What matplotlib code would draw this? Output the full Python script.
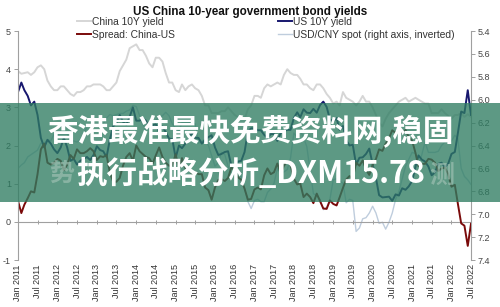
import matplotlib
matplotlib.use('Agg')
import matplotlib.pyplot as plt
import matplotlib.dates as mdates
from matplotlib.patches import Rectangle
import numpy as np
import pandas as pd

# monthly values, Jan 2011 .. Jul 2022
months = pd.date_range('2011-01-01', '2022-07-01', freq='MS')

china_10y = [
    3.95, 3.88, 3.90, 3.92, 3.85, 3.92, 4.05, 4.10, 4.00, 3.70, 3.55, 3.45,  # 2011
    3.45, 3.55, 3.55, 3.45, 3.35, 3.30, 3.40, 3.40, 3.45, 3.55, 3.55, 3.60,  # 2012
    3.60, 3.60, 3.55, 3.45, 3.45, 3.55, 3.65, 3.95, 4.10, 4.25, 4.55, 4.60,  # 2013
    4.65, 4.50, 4.50, 4.35, 4.15, 4.05, 4.30, 4.30, 4.20, 3.90, 3.65, 3.65,  # 2014
    3.45, 3.40, 3.60, 3.45, 3.55, 3.60, 3.50, 3.45, 3.30, 3.05, 3.05, 2.85,  # 2015
    2.85, 2.85, 2.90, 2.90, 3.00, 2.90, 2.80, 2.75, 2.70, 2.70, 2.95, 3.05,  # 2016
    3.30, 3.30, 3.25, 3.50, 3.60, 3.55, 3.60, 3.65, 3.60, 3.85, 4.00, 3.90,  # 2017
    3.85, 3.85, 3.75, 3.60, 3.60, 3.50, 3.45, 3.60, 3.60, 3.50, 3.35, 3.25,  # 2018
    3.10, 3.15, 3.05, 3.40, 3.25, 3.20, 3.15, 3.05, 3.15, 3.30, 3.15, 3.15,  # 2019
    3.00, 2.80, 2.60, 2.50, 2.70, 2.85, 2.95, 3.05, 3.15, 3.20, 3.25, 3.15,  # 2020
    3.20, 3.25, 3.20, 3.15, 3.10, 3.10, 2.85, 2.85, 2.85, 2.95, 2.85, 2.78,  # 2021
    2.70, 2.80, 2.80, 2.85, 2.75, 2.82, 2.75,                                # 2022
]

us_10y = [
    3.40, 3.65, 3.45, 3.30, 3.05, 3.15, 2.80, 2.20, 1.95, 2.15, 2.05, 1.90,
    1.80, 1.95, 2.20, 1.95, 1.60, 1.65, 1.50, 1.60, 1.65, 1.70, 1.62, 1.75,
    1.98, 1.88, 1.85, 1.70, 2.15, 2.50, 2.60, 2.80, 2.62, 2.55, 2.75, 3.00,
    2.65, 2.65, 2.72, 2.65, 2.48, 2.53, 2.56, 2.35, 2.50, 2.35, 2.18, 2.17,
    1.68, 2.00, 1.93, 2.05, 2.12, 2.35, 2.20, 2.20, 2.05, 2.15, 2.22, 2.27,
    1.95, 1.75, 1.78, 1.83, 1.85, 1.47, 1.45, 1.58, 1.60, 1.83, 2.37, 2.45,
    2.45, 2.40, 2.40, 2.28, 2.20, 2.30, 2.30, 2.12, 2.33, 2.38, 2.41, 2.41,
    2.72, 2.87, 2.74, 2.95, 2.86, 2.85, 2.96, 2.86, 3.06, 3.15, 3.01, 2.69,
    2.63, 2.72, 2.41, 2.51, 2.14, 2.00, 2.02, 1.50, 1.68, 1.69, 1.78, 1.92,
    1.51, 1.15, 0.70, 0.64, 0.65, 0.66, 0.55, 0.72, 0.69, 0.88, 0.84, 0.93,
    1.07, 1.44, 1.74, 1.63, 1.58, 1.45, 1.22, 1.30, 1.52, 1.55, 1.43, 1.52,
    1.78, 1.83, 2.32, 2.89, 2.85, 3.45, 2.80,
]

usd_cny = [
    6.60, 6.57, 6.55, 6.50, 6.48, 6.46, 6.44, 6.38, 6.38, 6.35, 6.36, 6.30,
    6.30, 6.30, 6.30, 6.30, 6.36, 6.36, 6.37, 6.35, 6.29, 6.24, 6.23, 6.23,
    6.22, 6.23, 6.21, 6.16, 6.13, 6.14, 6.13, 6.12, 6.12, 6.10, 6.09, 6.05,
    6.06, 6.14, 6.21, 6.26, 6.25, 6.20, 6.18, 6.15, 6.14, 6.11, 6.14, 6.21,
    6.25, 6.27, 6.20, 6.20, 6.20, 6.20, 6.21, 6.38, 6.36, 6.35, 6.40, 6.49,
    6.58, 6.55, 6.46, 6.48, 6.58, 6.64, 6.64, 6.67, 6.67, 6.78, 6.89, 6.95,
    6.88, 6.87, 6.89, 6.89, 6.81, 6.78, 6.73, 6.60, 6.65, 6.63, 6.61, 6.51,
    6.29, 6.33, 6.27, 6.33, 6.41, 6.62, 6.82, 6.84, 6.87, 6.96, 6.94, 6.87,
    6.70, 6.69, 6.71, 6.73, 6.90, 6.87, 6.88, 7.15, 7.12, 7.04, 7.03, 6.99,
    6.93, 6.99, 7.08, 7.07, 7.13, 7.07, 6.99, 6.87, 6.80, 6.69, 6.58, 6.52,
    6.46, 6.47, 6.57, 6.48, 6.37, 6.46, 6.46, 6.46, 6.45, 6.40, 6.37, 6.37,
    6.36, 6.31, 6.34, 6.60, 6.67, 6.70, 6.74,
]

spread = np.array(china_10y) - np.array(us_10y)

left_ticks = [-1, 0, 1, 2, 3, 4, 5]
right_ticks = [5.4, 5.6, 5.8, 6.0, 6.2, 6.4, 6.6, 6.8, 7.0, 7.2, 7.4]
tick_dates = pd.date_range('2011-01-01', '2022-07-01', freq='6MS')

plt.rcParams['font.family'] = ['Liberation Sans', 'Noto Sans CJK SC', 'DejaVu Sans']

fig = plt.figure(figsize=(5, 3.07), dpi=100)
ax = fig.add_axes([0.036, 0.153, 0.906, 0.746])
ax2 = ax.twinx()
ax.set_zorder(ax2.get_zorder() + 1)
ax.patch.set_visible(False)

l_china, = ax.plot(months, china_10y, color='#d6d6d6', lw=1.4)
l_us, = ax.plot(months, us_10y, color='#17176e', lw=1.4)
l_spread, = ax.plot(months, spread, color='#7a0a0a', lw=1.4)
l_fx, = ax2.plot(months, usd_cny, color='#bfcddd', lw=1.0)

ax.set_xlim(months[0], months[-1])
ax.set_ylim(-1, 5)
ax2.set_ylim(7.4, 5.4)

axis_col = '#a0a0a0'
for s in ['top', 'bottom', 'right']:
    ax.spines[s].set_visible(False)
for s in ['top', 'bottom', 'left']:
    ax2.spines[s].set_visible(False)
ax.spines['left'].set_color(axis_col)
ax.spines['left'].set_linewidth(0.8)
ax2.spines['right'].set_color(axis_col)
ax2.spines['right'].set_linewidth(0.8)

ax.set_yticks(left_ticks)
ax.set_yticklabels([str(v) for v in left_ticks])
ax.tick_params(axis='y', labelsize=6.5, labelcolor='#444444', color=axis_col, length=3, width=0.7, pad=2)
ax2.set_yticks(right_ticks)
ax2.set_yticklabels(['%.1f' % v for v in right_ticks])
ax2.tick_params(axis='y', labelsize=6.5, labelcolor='#444444', color=axis_col, length=3, width=0.7, pad=2)

ax.set_xticks(tick_dates)
ax.set_xticklabels([d.strftime('%b %Y') for d in tick_dates], rotation=90)
ax.tick_params(axis='x', length=0, labelsize=6.5, labelcolor='#333333', pad=3)

# horizontal axis line at zero
sec = ax.secondary_xaxis(1 / 6)
sec.set_xticks(mdates.date2num(tick_dates))
sec.set_xticklabels([])
sec.tick_params(length=3, direction='inout', color=axis_col, width=0.7)
for s in sec.spines.values():
    s.set_color(axis_col)
    s.set_linewidth(0.8)

fig.text(0.5, 1 - 12.5 / 307, 'US China 10-year government bond yields', ha='center', va='center',
         fontsize=8.4, fontweight='bold', color='#111111')

fig.legend([l_china, l_spread, l_us, l_fx],
           ['China 10Y yield', 'Spread: China-US', 'US 10Y yield', 'USD/CNY spot (right axis, inverted)'],
           loc='upper left', bbox_to_anchor=(77 / 500, 1 - 17 / 307), ncol=2, frameon=False,
           fontsize=7.4, handlelength=1.35, handletextpad=0.12, columnspacing=10.0,
           labelspacing=0.25, borderpad=0, borderaxespad=0, labelcolor='#333333')

# watermark band
fig.patches.append(Rectangle((0, 1 - 202 / 307), 1, 99 / 307, transform=fig.transFigure,
                             facecolor='#2f7d62', alpha=0.78, edgecolor='none', zorder=10))
fig.text(62 / 500, 1 - 174 / 307, '势', ha='center', va='center', fontsize=18, fontweight='bold',
         color='#a7c6b9', alpha=0.6, family=['Noto Sans CJK SC'], zorder=11)
fig.text(442 / 500, 1 - 176 / 307, '测', ha='center', va='center', fontsize=18, fontweight='bold',
         color='#a7c6b9', alpha=0.6, family=['Noto Sans CJK SC'], zorder=11)
fig.text(0.5, 1 - 132 / 307, '香港最准最快免费资料网,稳固', ha='center', va='center', fontsize=22,
         fontweight='bold', color='white', family=['Noto Sans CJK SC', 'DejaVu Sans'], zorder=12)
fig.text(251 / 500, 1 - 174 / 307, '执行战略分析_DXM15.78', ha='center', va='center', fontsize=22,
         fontweight='bold', color='white', family=['Noto Sans CJK SC', 'DejaVu Sans'], zorder=12)

fig.savefig('out.png', dpi=100)
